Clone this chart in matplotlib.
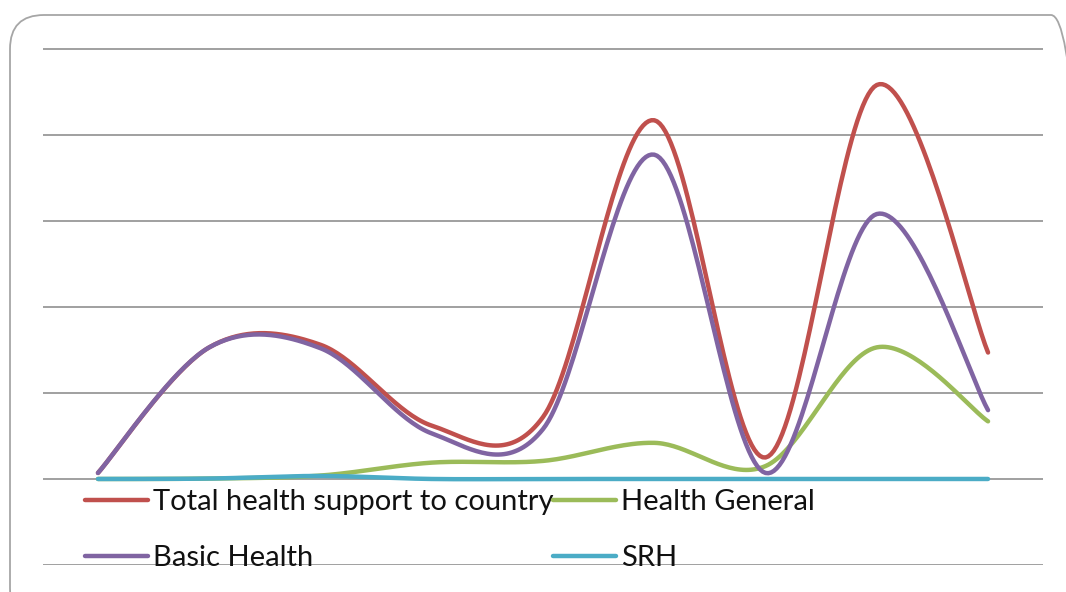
import numpy as np
import matplotlib
matplotlib.use("Agg")
import matplotlib.pyplot as plt
import matplotlib.patches as mpatches
from matplotlib.transforms import IdentityTransform

# ---- data (one gridline = 1 unit) ----
categories = list(range(9))
total_health = [0.07, 1.53, 1.56, 0.62, 0.72, 4.17, 0.25, 4.58, 1.47]
health_general = [0.00, 0.005, 0.04, 0.19, 0.21, 0.42, 0.15, 1.53, 0.67]
basic_health = [0.07, 1.53, 1.52, 0.53, 0.58, 3.77, 0.07, 3.08, 0.80]
srh = [0.00, 0.005, 0.035, 0.00, 0.00, 0.00, 0.00, 0.00, 0.00]

series_names = ["Total health support to country", "Health General",
                "Basic Health", "SRH"]
series_colors = ["#C0504D", "#9BBB59", "#8064A2", "#4BACC6"]
series_values = [total_health, health_general, basic_health, srh]


def smooth(xs, ys, n=40):
    """Excel-like smoothed line (Catmull-Rom through the points)."""
    xs = np.asarray(xs, float)
    ys = np.asarray(ys, float)
    px = np.concatenate([[xs[0]], xs, [xs[-1]]])
    py = np.concatenate([[ys[0]], ys, [ys[-1]]])
    out_x, out_y = [], []
    t = np.linspace(0, 1, n, endpoint=False)
    for i in range(1, len(px) - 2):
        p0x, p1x, p2x, p3x = px[i - 1:i + 3]
        p0y, p1y, p2y, p3y = py[i - 1:i + 3]
        m1x, m2x = (p2x - p0x) / 2, (p3x - p1x) / 2
        m1y, m2y = (p2y - p0y) / 2, (p3y - p1y) / 2
        h00 = 2 * t**3 - 3 * t**2 + 1
        h10 = t**3 - 2 * t**2 + t
        h01 = -2 * t**3 + 3 * t**2
        h11 = t**3 - t**2
        out_x.append(h00 * p1x + h10 * m1x + h01 * p2x + h11 * m2x)
        out_y.append(h00 * p1y + h10 * m1y + h01 * p2y + h11 * m2y)
    out_x.append([xs[-1]])
    out_y.append([ys[-1]])
    return np.concatenate(out_x), np.concatenate(out_y)


W, H = 1066, 592
fig = plt.figure(figsize=(W / 100, H / 100), dpi=100)
fig.patch.set_facecolor("white")

# rounded outer frame (pixel coordinates)
frame = mpatches.FancyBboxPatch((10, -30), 1075, 592 - 15 + 30,
                                boxstyle="round,pad=0,rounding_size=34",
                                transform=IdentityTransform(),
                                facecolor="none", edgecolor="#A6A6A6",
                                linewidth=1.3)
fig.add_artist(frame)

ax = fig.add_axes([43 / W, (H - 565) / H, 1000 / W, 517 / H])
ax.set_xlim(-0.494, 8.494)
ax.set_ylim(-1, 5.01)
ax.set_facecolor("none")
for s in ax.spines.values():
    s.set_visible(False)
ax.set_xticks([])
ax.set_yticks(range(-1, 6))
ax.tick_params(left=False, labelleft=False)
ax.yaxis.grid(True, color="#A0A0A0", linewidth=1.4)
ax.set_axisbelow(True)

handles = []
for name, col, vals in zip(series_names, series_colors, series_values):
    sx, sy = smooth(categories, vals)
    ln, = ax.plot(sx, sy, color=col, linewidth=3.2, label=name,
                  solid_capstyle="round", clip_on=False)
    handles.append(ln)

# legend: row-wise order as in reference
order = [0, 2, 1, 3]
leg = ax.legend([handles[i] for i in order], [series_names[i] for i in order],
                ncol=2, frameon=False, loc="upper left",
                bbox_to_anchor=(85 / W, (H - 489) / H),
                bbox_transform=fig.transFigure,
                borderaxespad=0, borderpad=0, handlelength=2.16,
                handletextpad=0.17, columnspacing=0.0, labelspacing=1.02,
                prop={"family": ["Lato", "DejaVu Sans"], "size": 21})
for txt in leg.get_texts():
    txt.set_color("#111111")

fig.savefig("out.png", dpi=100, facecolor="white")
